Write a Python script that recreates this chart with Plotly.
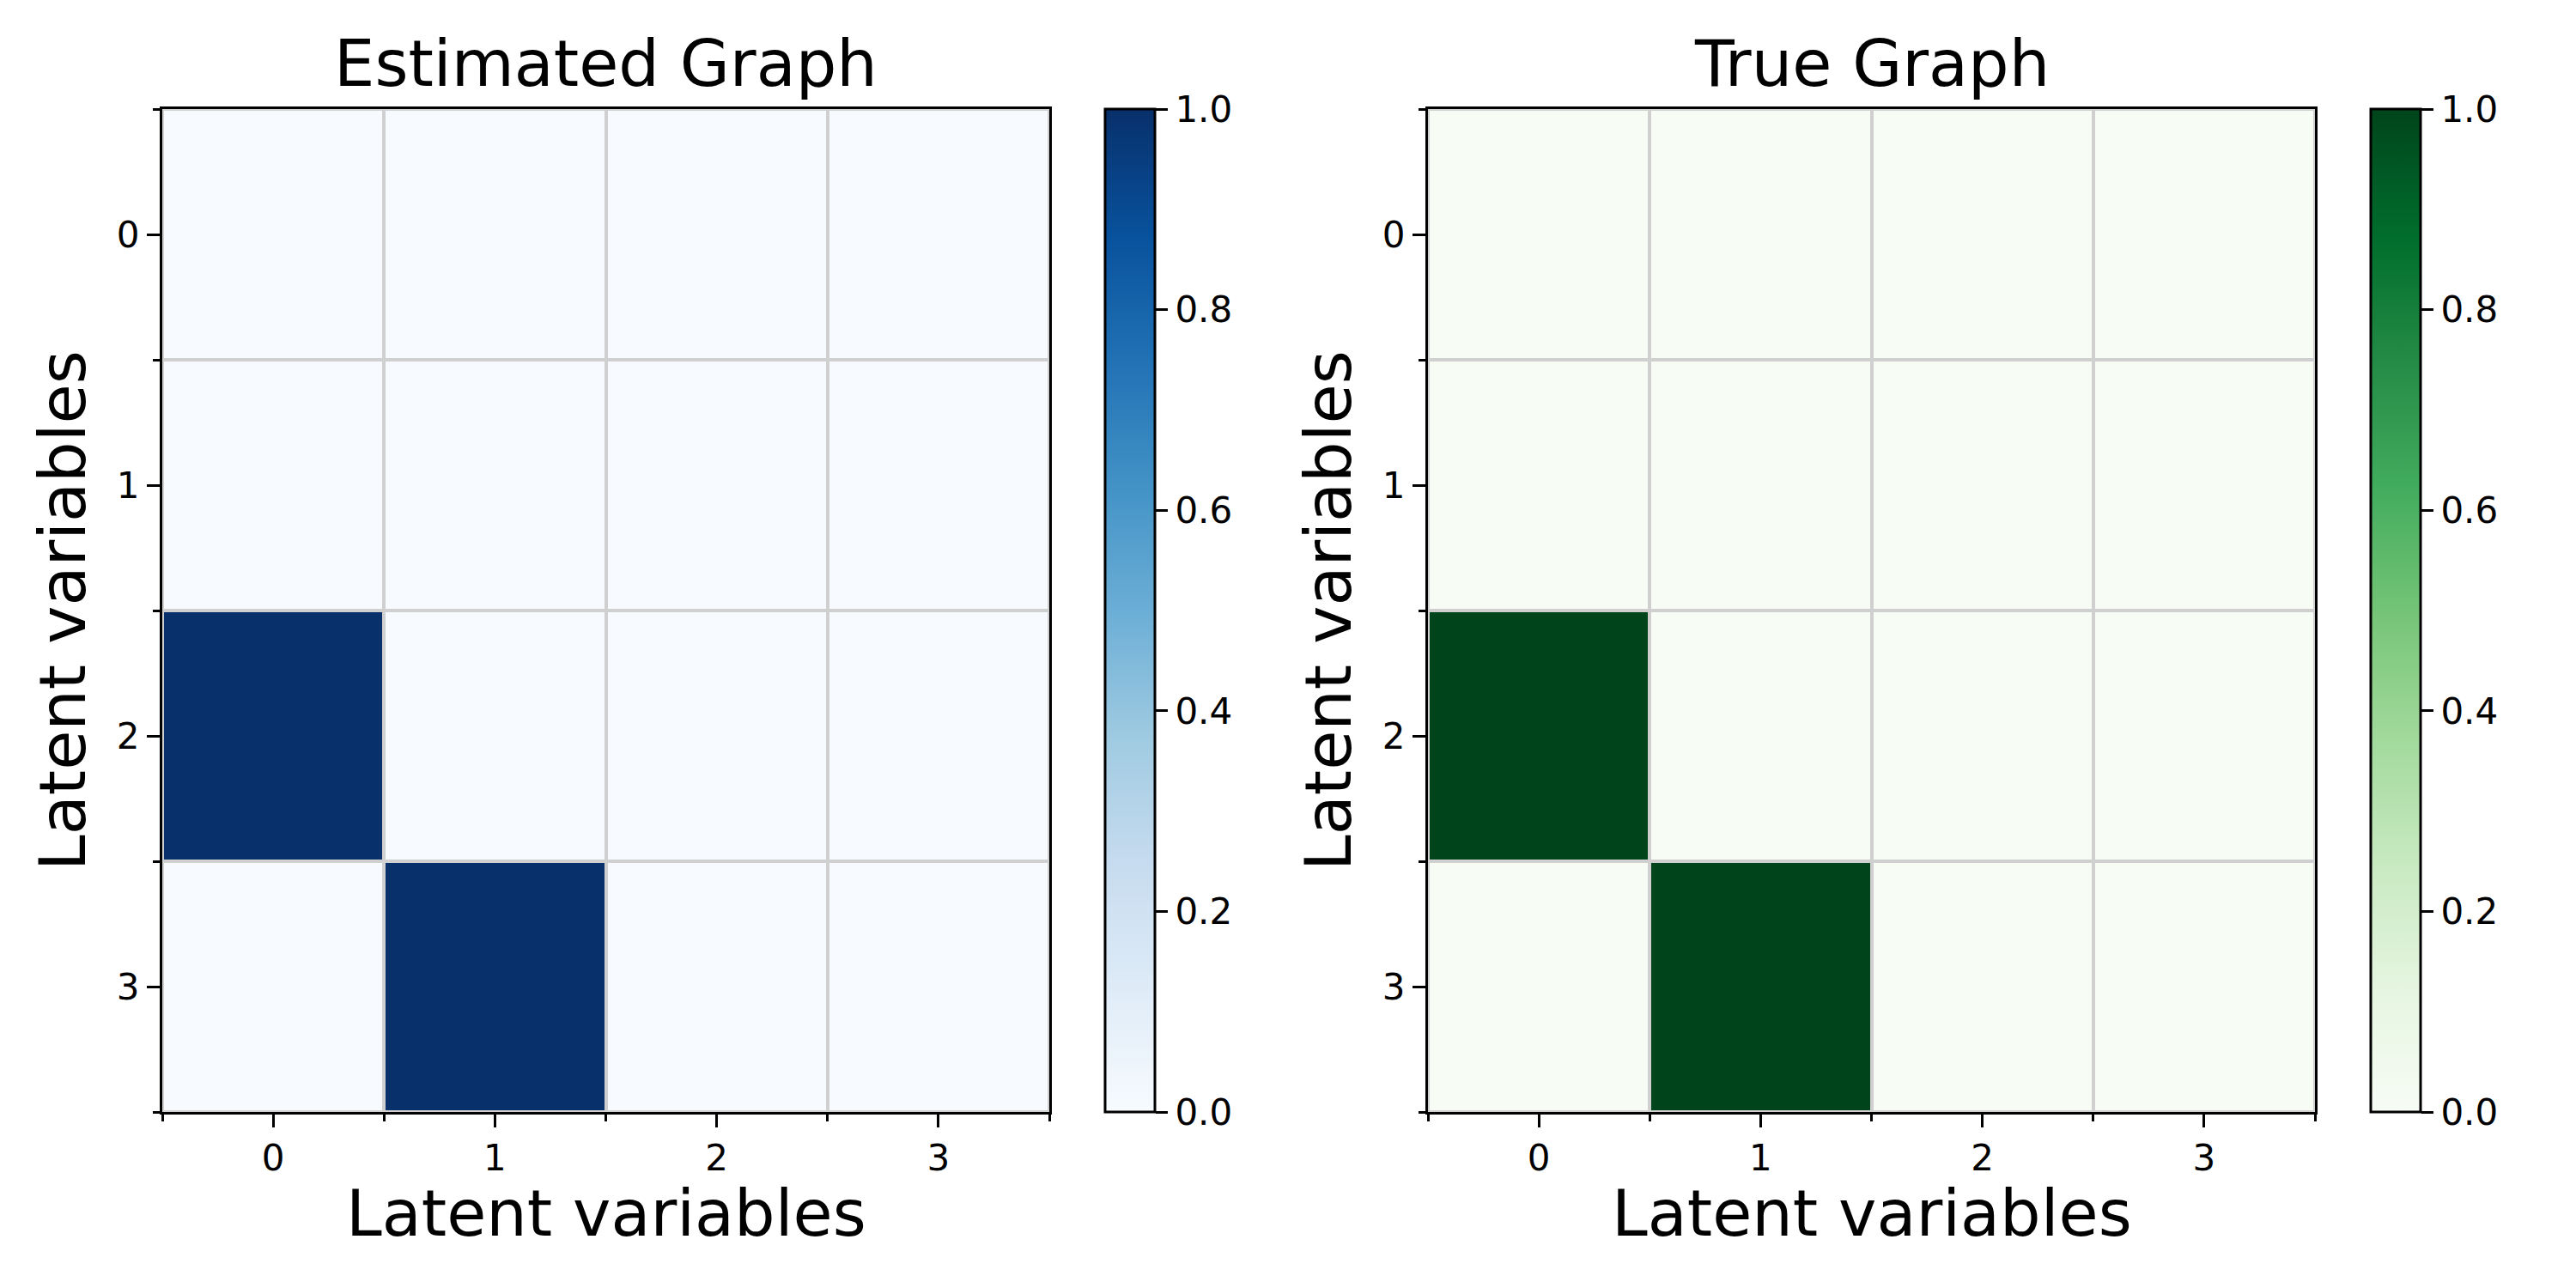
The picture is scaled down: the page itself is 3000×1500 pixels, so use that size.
import plotly.graph_objects as go

# Data
variables = [0, 1, 2, 3]
estimated_graph = [
    [0, 0, 0, 0],
    [0, 0, 0, 0],
    [1, 0, 0, 0],
    [0, 1, 0, 0],
]
true_graph = [
    [0, 0, 0, 0],
    [0, 0, 0, 0],
    [1, 0, 0, 0],
    [0, 1, 0, 0],
]
cbar_ticks = [0.0, 0.2, 0.4, 0.6, 0.8, 1.0]

blues = ["#f7fbff", "#deebf7", "#c6dbef", "#9ecae1", "#6baed6",
         "#4292c6", "#2171b5", "#08519c", "#08306b"]
greens = ["#f7fcf5", "#e5f5e0", "#c7e9c0", "#a1d99b", "#74c476",
          "#41ab5d", "#238b45", "#006d2c", "#00441b"]


def scale(cols):
    n = len(cols) - 1
    return [[i / n, c] for i, c in enumerate(cols)]


W, H = 3000, 1500
OFF = 8  # page body margin
FONT = "DejaVu Sans"


def px_x(p):
    return (p - OFF) / W


def px_y(p):
    return 1 - (p - OFF) / H


plot_top_px, plot_bot_px = 127, 1295
ydom = [px_y(plot_bot_px), px_y(plot_top_px)]
left_x = [189, 1222]
right_x = [1663, 2696]
cb_x = [1287, 2761]
cb_w = 58

fig = go.Figure()


def cbar(xpx):
    return dict(
        x=px_x(xpx), xanchor="left", xpad=0,
        y=ydom[0], yanchor="bottom", ypad=0,
        len=plot_bot_px - plot_top_px, lenmode="pixels",
        thickness=cb_w, thicknessmode="pixels",
        outlinewidth=3, outlinecolor="black",
        tickvals=cbar_ticks, tickformat=".1f",
        ticks="outside", ticklen=14, tickwidth=3, tickcolor="black",
        tickfont=dict(family=FONT, size=42, color="black"),
    )


fig.add_trace(go.Heatmap(
    z=estimated_graph, x=variables, y=variables,
    colorscale=scale(blues), zmin=0, zmax=1,
    xgap=4, ygap=4, colorbar=cbar(cb_x[0]),
    xaxis="x", yaxis="y",
))
fig.add_trace(go.Heatmap(
    z=true_graph, x=variables, y=variables,
    colorscale=scale(greens), zmin=0, zmax=1,
    xgap=4, ygap=4, colorbar=cbar(cb_x[1]),
    xaxis="x2", yaxis="y2",
))


def axis_common():
    return dict(
        showline=True, mirror=True, linecolor="black", linewidth=3,
        showgrid=False, zeroline=False,
        ticks="outside", ticklen=15, tickwidth=3, tickcolor="black",
        tickvals=variables,
        tickfont=dict(family=FONT, size=42, color="black"),
        minor=dict(tickmode="linear", tick0=-0.5, dtick=1, ticks="outside",
                   ticklen=8, tickwidth=2.5, tickcolor="black", showgrid=False),
    )


xa = axis_common(); xa.update(domain=[px_x(left_x[0]), px_x(left_x[1])], range=[-0.5, 3.5], anchor="y")
ya = axis_common(); ya.update(domain=ydom, range=[3.5, -0.5], anchor="x")
xa2 = axis_common(); xa2.update(domain=[px_x(right_x[0]), px_x(right_x[1])], range=[-0.5, 3.5], anchor="y2")
ya2 = axis_common(); ya2.update(domain=ydom, range=[3.5, -0.5], anchor="x2")

annotations = []
for (x0, x1), title in [(left_x, "Estimated Graph"), (right_x, "True Graph")]:
    cx = px_x((x0 + x1) / 2)
    annotations.append(dict(text=title, x=cx, y=px_y(74), xref="paper", yref="paper",
                            xanchor="center", yanchor="middle", showarrow=False,
                            font=dict(family=FONT, size=75, color="black")))
    annotations.append(dict(text="Latent variables", x=cx, y=px_y(1368), xref="paper", yref="paper",
                            xanchor="center", yanchor="top", showarrow=False,
                            borderpad=0,
                            font=dict(family=FONT, size=75, color="black")))
    annotations.append(dict(text="Latent variables", x=px_x(x0 - 116), y=(ydom[0] + ydom[1]) / 2,
                            xref="paper", yref="paper", textangle=-90,
                            xanchor="center", yanchor="middle", showarrow=False,
                            font=dict(family=FONT, size=75, color="black")))

fig.update_layout(
    width=W, height=H,
    margin=dict(l=0, r=0, t=0, b=0),
    paper_bgcolor="white", plot_bgcolor="#d0d0d0",
    font=dict(family=FONT, color="black"),
    xaxis=xa, yaxis=ya, xaxis2=xa2, yaxis2=ya2,
    annotations=annotations,
    showlegend=False,
)

fig.write_html("out.html")
